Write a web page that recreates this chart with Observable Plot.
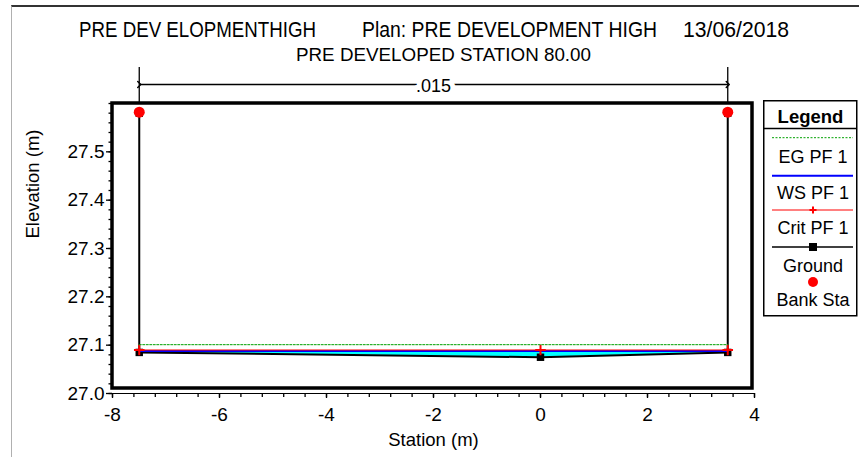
<!DOCTYPE html>
<html>
<head>
<meta charset="utf-8">
<script src="https://cdn.jsdelivr.net/npm/d3@7"></script>
<script src="https://cdn.jsdelivr.net/npm/@observablehq/plot@0.6"></script>
<style>
  html, body { margin: 0; padding: 0; background: #fff; }
  #page { position: relative; width: 859px; height: 457px; overflow: hidden; font-family: "Liberation Sans", Arial, sans-serif; }
  #border { position: absolute; left: 11px; top: 5px; width: 860px; height: 470px; border-top: 2px solid #333; border-left: 1.5px solid #b0b0b0; }
  .t { position: absolute; white-space: nowrap; color: #000; line-height: 1; transform-origin: 0 0; }
  #chart { position: absolute; left: 0; top: 0; }
  #legend { position: absolute; left: 763px; top: 100px; }
</style>
</head>
<body>
<div id="page">
  <div id="border"></div>
  <div id="chart"></div>
  <span class="t" id="t1" style="left:79px; top:18.5px; font-size:22px;"></span>
  <span class="t" id="t2" style="left:362px; top:18.5px; font-size:22px;"></span>
  <span class="t" id="t3" style="left:683px; top:18.5px; font-size:22px;"></span>
  <span class="t" id="sub" style="left:296px; top:44.8px; font-size:19px;"></span>
  <svg id="legend" width="95" height="218"></svg>
</div>
<script>
// ---- titles ----
const titleParts = ["PRE DEV ELOPMENTHIGH", "Plan: PRE DEVELOPMENT HIGH", "13/06/2018"];
const subtitle = "PRE DEVELOPED STATION 80.00";
const xLabel = "Station (m)";
const yLabel = "Elevation (m)";

// ---- data ----
const groundStation = [-7.5, -7.5, 0, 3.5, 3.5];
const groundElev = [27.58, 27.085, 27.075, 27.085, 27.58];
const bankStation = [-7.5, 3.5];
const bankElev = [27.582, 27.582];
const wsElev = 27.088;   // WS PF 1
const critElev = 27.090; // Crit PF 1
const egElev = 27.101;   // EG PF 1
const nBreaks = [-7.5, 3.5];
const nValues = [".015"];

// ---- ticks ----
const xTicks = [-8, -6, -4, -2, 0, 2, 4];
const xTickLabels = ["-8", "-6", "-4", "-2", "0", "2", "4"];
const yTicks = [27.0, 27.1, 27.2, 27.3, 27.4, 27.5];
const yTickLabels = ["27.0", "27.1", "27.2", "27.3", "27.4", "27.5"];
const xMinor = d3.range(0, 31).map(i => -8 + i * 0.4);
const yMinor = d3.range(0, 31).map(i => 27.0 + i * 0.02);

// ---- legend ----
const legendNames = ["EG PF 1", "WS PF 1", "Crit PF 1", "Ground", "Bank Sta"];

// fit title pieces to their widths in the reference
function fit(id, text, width) {
  const el = document.getElementById(id);
  el.textContent = text;
  const w = el.getBoundingClientRect().width;
  el.style.transform = `scaleX(${width / w})`;
}
fit("t1", titleParts[0], 237);
fit("t2", titleParts[1], 295);
fit("t3", titleParts[2], 106);
fit("sub", subtitle, 295);

const ground = groundStation.map((x, i) => ({x, y: groundElev[i]}));
const bank = bankStation.map((x, i) => ({x, y: bankElev[i]}));
const wet = ground.filter(d => d.y < wsElev);
const nSeg = [{x1: nBreaks[0], x2: nBreaks[1]}];
const nText = [{x: (nBreaks[0] + nBreaks[1]) / 2, label: nValues[0]}];
const yDomain = [27.0, 27.6];

const chart = Plot.plot({
  width: 859,
  height: 457,
  marginLeft: 112,
  marginRight: 105,
  marginTop: 103,
  marginBottom: 64,
  x: {domain: [-8, 4]},
  y: {domain: yDomain},
  style: {fontFamily: "'Liberation Sans', Arial, sans-serif", fontSize: "19px", background: "transparent", overflow: "visible", color: "black"},
  marks: [
    // water
    Plot.areaY(wet, {x: "x", y1: "y", y2: () => wsElev, fill: "#00ffff"}),
    // ground
    Plot.line(ground, {x: "x", y: "y", stroke: "black", strokeWidth: 2}),
    Plot.dot(ground, {x: "x", y: "y", symbol: "square", fill: "black", r: 4.2}),
    // WS
    Plot.line(wet, {x: "x", y: () => wsElev, stroke: "#0000ff", strokeWidth: 2}),
    // Crit
    Plot.line(wet, {x: "x", y: () => critElev, stroke: "#ff0000", strokeWidth: 1}),
    Plot.dot(wet, {x: "x", y: () => critElev, symbol: "plus", stroke: "#ff0000", strokeWidth: 2, r: 3.5}),
    // EG
    Plot.line(wet, {x: "x", y: () => egElev, stroke: "#00a000", strokeWidth: 1, strokeDasharray: "2,1.5"}),
    // bank stations
    Plot.dot(bank, {x: "x", y: "y", fill: "#ff0000", r: 5.5}),
    // frame
    Plot.frame({stroke: "black", strokeWidth: 3.5, insetLeft: -0.5, insetRight: 2.5, insetTop: -0.5, insetBottom: 5.5}),
    // axis line
    Plot.ruleY([yDomain[0]], {stroke: "black", strokeWidth: 1.2}),
    // axes
    Plot.axisX({ticks: xMinor, tickSize: 4, tickFormat: () => "", label: null, strokeWidth: 1.3}),
    Plot.axisX({ticks: xTicks, tickSize: 5, tickPadding: 9, tickFormat: d => xTickLabels[xTicks.indexOf(d)], label: null, fontSize: 19, strokeWidth: 1.3}),
    Plot.axisY({ticks: yMinor, tickSize: 3.5, tickFormat: () => "", label: null, strokeWidth: 1.3}),
    Plot.axisY({ticks: yTicks, tickSize: 6, tickPadding: 2, tickFormat: d => yTickLabels[yTicks.indexOf(d)], label: null, fontSize: 19, strokeWidth: 1.3}),
    // axis titles
    Plot.text([xLabel], {frameAnchor: "bottom", dy: 52, fontSize: 18.5}),
    Plot.text([yLabel], {frameAnchor: "left", rotate: -90, dx: -79, dy: -10, fontSize: 18.5}),
    // n-value annotation
    Plot.ruleX(nBreaks, {stroke: "black", strokeWidth: 1.3, insetTop: -36, insetBottom: 290}),
    Plot.link(nSeg, {x1: "x1", x2: "x2", y1: () => yDomain[1], y2: () => yDomain[1], dy: -19, stroke: "black", strokeWidth: 1.5, markerStart: "arrow", markerEnd: "arrow"}),
    Plot.text(nText, {x: "x", y: () => yDomain[1], dy: -17, text: "label", fontSize: 18, stroke: "white", strokeWidth: 10, fill: "black"})
  ]
});
document.getElementById("chart").appendChild(chart);

// ---- legend (drawn as svg) ----
const lg = d3.select("#legend");
const W = 93;
const ff = "'Liberation Sans', Arial, sans-serif";
lg.append("rect").attr("x", 0.75).attr("y", 0.75).attr("width", W).attr("height", 215).attr("fill", "white").attr("stroke", "black").attr("stroke-width", 1.5);
lg.append("text").attr("x", W / 2 + 1).attr("y", 16.5).attr("dy", "0.35em").attr("text-anchor", "middle")
  .attr("font-family", ff).attr("font-weight", "bold").attr("font-size", 18.5).text("Legend");
lg.append("line").attr("x1", 0).attr("x2", W + 1).attr("y1", 28.5).attr("y2", 28.5).attr("stroke", "black").attr("stroke-width", 1.3);
const symY = [37.7, 75.7, 110, 147, 182];
const txtY = [57, 92.7, 128, 165.7, 200];
const lx1 = 9, lx2 = 90, cx = 50;
// EG
lg.append("line").attr("x1", lx1).attr("x2", lx2).attr("y1", symY[0]).attr("y2", symY[0]).attr("stroke", "#00a000").attr("stroke-dasharray", "2,1.5");
// WS
lg.append("line").attr("x1", lx1).attr("x2", lx2).attr("y1", symY[1]).attr("y2", symY[1]).attr("stroke", "#0000ff").attr("stroke-width", 2);
// Crit
lg.append("line").attr("x1", lx1).attr("x2", lx2).attr("y1", symY[2]).attr("y2", symY[2]).attr("stroke", "#ff0000").attr("stroke-width", 1);
lg.append("path").attr("d", `M${cx - 3.5},${symY[2]}h7M${cx},${symY[2] - 3.5}v7`).attr("stroke", "#ff0000").attr("stroke-width", 2);
// Ground
lg.append("line").attr("x1", lx1).attr("x2", lx2).attr("y1", symY[3]).attr("y2", symY[3]).attr("stroke", "black").attr("stroke-width", 1.5);
lg.append("rect").attr("x", cx - 4).attr("y", symY[3] - 4).attr("width", 8).attr("height", 8).attr("fill", "black");
// Bank
lg.append("circle").attr("cx", cx).attr("cy", symY[4]).attr("r", 5).attr("fill", "#ff0000");
legendNames.forEach((name, i) => {
  lg.append("text").attr("x", cx).attr("y", txtY[i]).attr("dy", "0.35em").attr("text-anchor", "middle")
    .attr("font-family", ff).attr("font-size", 18).text(name);
});
</script>
</body>
</html>
